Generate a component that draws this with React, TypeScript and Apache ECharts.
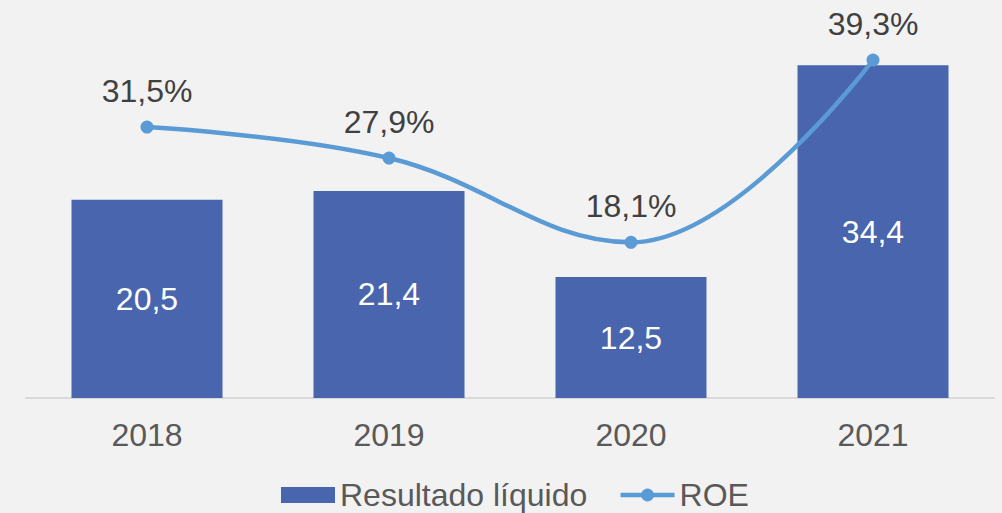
import React, { useEffect, useRef } from "react";
import * as echarts from "echarts";

const categories = ["2018", "2019", "2020", "2021"];
const resultado = [20.5, 21.4, 12.5, 34.4];
const roe = [31.5, 27.9, 18.1, 39.3];

const fmt = (v: number) => v.toFixed(1).replace(".", ",");

export default function App() {
  const ref = useRef<HTMLDivElement>(null);
  useEffect(() => {
    const chart = echarts.init(ref.current!, null, { renderer: "svg" });
    const font = "'Liberation Sans', Arial, sans-serif";
    chart.setOption({
      animation: false,
      backgroundColor: "#f2f2f2",
      textStyle: { fontFamily: font },
      grid: { left: 26, right: 8, top: 11, bottom: 115, containLabel: false },
      legend: {
        top: 479,
        left: 281,
        padding: 0,
        itemWidth: 54,
        itemHeight: 16,
        itemGap: 31,
        textStyle: { fontSize: 32, color: "#595959", fontFamily: font },
        data: [
          { name: "Resultado líquido", icon: "rect" },
          {
            name: "ROE",
            lineStyle: { width: 4.5, color: "#5b9bd5" },
            itemStyle: { color: "#5b9bd5" },
          },
        ],
      },
      xAxis: {
        type: "category",
        data: categories,
        axisLine: { lineStyle: { color: "#d9d9d9", width: 2 } },
        axisTick: { show: false },
        axisLabel: { fontSize: 32, color: "#595959", margin: 21, fontFamily: font },
      },
      yAxis: [
        { type: "value", min: 0, max: 40, show: false, splitLine: { show: false } },
        { type: "value", min: 0, max: 45, show: false, splitLine: { show: false } },
      ],
      series: [
        {
          name: "Resultado líquido",
          type: "bar",
          data: resultado,
          barWidth: 151,
          itemStyle: { color: "#4865ad" },
          label: {
            show: true,
            position: "inside",
            color: "#ffffff",
            fontSize: 32,
            fontFamily: font,
            formatter: (p: any) => fmt(p.value),
          },
        },
        {
          name: "ROE",
          type: "line",
          yAxisIndex: 1,
          data: roe,
          smooth: 0.4,
          symbol: "circle",
          symbolSize: 13,
          lineStyle: { color: "#5b9bd5", width: 4.5 },
          itemStyle: { color: "#5b9bd5" },
          label: {
            show: true,
            position: "top",
            distance: 14,
            color: "#404040",
            fontSize: 32,
            fontFamily: font,
            formatter: (p: any) => fmt(p.value) + "%",
          },
        },
      ],
    });
    return () => chart.dispose();
  }, []);
  return (
    <div
      ref={ref}
      style={{ position: "fixed", left: 0, top: 0, width: 1002, height: 513 }}
    />
  );
}
